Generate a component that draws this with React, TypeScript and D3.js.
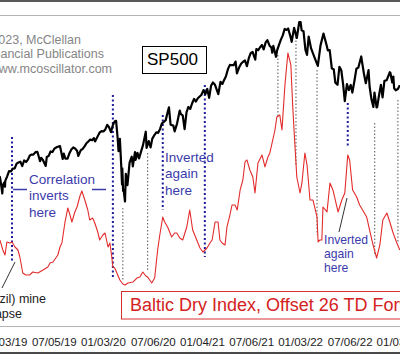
import React from 'react';
import * as d3 from 'd3';

const W = 400;
const H = 355;

// S&P 500 (approx closes)
const spDates = [
  "2018-12-14","2018-12-17","2018-12-20","2018-12-24","2018-12-26","2018-12-31","2019-01-03","2019-01-04",
  "2019-01-11","2019-01-18","2019-01-25","2019-02-01","2019-02-08","2019-02-15","2019-02-22","2019-03-01",
  "2019-03-08","2019-03-15","2019-03-22","2019-03-29","2019-04-05","2019-04-12","2019-04-18","2019-04-26",
  "2019-05-03","2019-05-13","2019-05-17","2019-05-24","2019-06-03","2019-06-07","2019-06-14","2019-06-21",
  "2019-06-28","2019-07-05","2019-07-15","2019-07-26","2019-08-05","2019-08-09","2019-08-15","2019-08-23",
  "2019-08-30","2019-09-06","2019-09-13","2019-09-20","2019-09-27","2019-10-02","2019-10-11","2019-10-18",
  "2019-10-25","2019-11-01","2019-11-08","2019-11-15","2019-11-22","2019-11-29","2019-12-03","2019-12-13",
  "2019-12-20","2019-12-27","2020-01-03","2020-01-10","2020-01-17","2020-01-24","2020-01-31","2020-02-07",
  "2020-02-14","2020-02-19","2020-02-25","2020-02-28","2020-03-04","2020-03-09","2020-03-12","2020-03-13",
  "2020-03-16","2020-03-18","2020-03-23","2020-03-26","2020-04-01","2020-04-09","2020-04-17","2020-04-21",
  "2020-04-29","2020-05-01","2020-05-08","2020-05-14","2020-05-22","2020-05-29","2020-06-08","2020-06-11",
  "2020-06-19","2020-06-26","2020-07-02","2020-07-10","2020-07-17","2020-07-24","2020-07-31","2020-08-07",
  "2020-08-14","2020-08-21","2020-08-28","2020-09-02","2020-09-08","2020-09-18","2020-09-23","2020-10-02",
  "2020-10-12","2020-10-16","2020-10-23","2020-10-30","2020-11-06","2020-11-13","2020-11-20","2020-11-27",
  "2020-12-04","2020-12-11","2020-12-18","2020-12-31","2021-01-08","2021-01-15","2021-01-22","2021-01-29",
  "2021-02-05","2021-02-12","2021-02-19","2021-03-04","2021-03-12","2021-03-19","2021-03-26","2021-04-01",
  "2021-04-09","2021-04-16","2021-04-23","2021-04-30","2021-05-07","2021-05-12","2021-05-21","2021-05-28",
  "2021-06-04","2021-06-11","2021-06-18","2021-06-25","2021-07-02","2021-07-09","2021-07-19","2021-07-23",
  "2021-07-30","2021-08-06","2021-08-13","2021-08-19","2021-08-27","2021-09-02","2021-09-10","2021-09-17",
  "2021-09-20","2021-09-24","2021-10-04","2021-10-08","2021-10-15","2021-10-22","2021-10-29","2021-11-05",
  "2021-11-12","2021-11-18","2021-11-26","2021-12-01","2021-12-10","2021-12-20","2021-12-29","2022-01-03",
  "2022-01-07","2022-01-14","2022-01-21","2022-01-27","2022-02-02","2022-02-11","2022-02-18","2022-02-24",
  "2022-03-08","2022-03-18","2022-03-29","2022-04-08","2022-04-14","2022-04-21","2022-04-29","2022-05-06",
  "2022-05-12","2022-05-20","2022-05-27","2022-06-03","2022-06-10","2022-06-16","2022-06-24","2022-07-01",
  "2022-07-08","2022-07-14","2022-07-22","2022-07-29","2022-08-05","2022-08-16","2022-08-19","2022-08-26",
  "2022-09-02","2022-09-12","2022-09-16","2022-09-23","2022-09-30","2022-10-04","2022-10-12","2022-10-14",
  "2022-10-21","2022-10-28","2022-11-03","2022-11-10","2022-11-18","2022-11-30","2022-12-02","2022-12-09",
  "2022-12-13","2022-12-16","2022-12-22","2022-12-30","2023-01-06"
];
const spValues = [
  2600,2546,2467,2351,2467,2507,2448,2532,
  2596,2671,2665,2707,2708,2776,2793,2804,
  2743,2822,2800,2834,2893,2907,2905,2940,
  2946,2812,2860,2826,2744,2873,2887,2950,
  2942,2990,3014,3026,2844,2919,2847,2847,
  2926,2979,3007,2992,2962,2887,2970,2986,
  3023,3067,3093,3120,3110,3141,3093,3169,
  3221,3240,3235,3265,3330,3295,3226,3328,
  3380,3386,3128,2954,3130,2747,2481,2711,
  2386,2398,2237,2630,2470,2790,2875,2737,
  2940,2830,2930,2852,2955,3044,3232,3002,
  3098,3009,3130,3185,3224,3216,3271,3351,
  3373,3397,3508,3580,3332,3319,3237,3348,
  3534,3483,3465,3270,3509,3585,3557,3638,
  3699,3663,3709,3756,3824,3768,3841,3714,
  3886,3934,3906,3768,3943,3913,3974,4019,
  4128,4185,4180,4181,4232,4063,4155,4204,
  4229,4247,4166,4280,4352,4369,4258,4411,
  4395,4436,4468,4405,4509,4537,4458,4432,
  4358,4455,4300,4391,4471,4545,4605,4697,
  4682,4704,4595,4513,4712,4568,4793,4796,
  4677,4663,4398,4326,4589,4419,4349,4288,
  4170,4463,4632,4488,4392,4394,4132,4123,
  3930,3901,4158,4108,3901,3667,3912,3825,
  3899,3790,3962,4130,4145,4305,4228,4058,
  3924,4110,3873,3693,3586,3791,3577,3583,
  3753,3901,3720,3956,3965,4080,4072,3934,
  4019,3852,3822,3840,3895
];

// Baltic Dry Index, plotted 26 trading days forward
const bdiDates = [
  "2018-12-15","2018-12-26","2019-01-03","2019-01-10","2019-01-21","2019-01-29","2019-02-09","2019-02-20",
  "2019-02-27","2019-03-10","2019-03-21","2019-04-05","2019-04-16","2019-05-05","2019-05-24","2019-06-11",
  "2019-06-19","2019-06-30","2019-07-18","2019-07-26","2019-08-02","2019-08-13","2019-08-24","2019-09-01",
  "2019-09-08","2019-09-19","2019-09-27","2019-10-08","2019-10-15","2019-10-26","2019-11-06","2019-11-13",
  "2019-11-24","2019-12-02","2019-12-13","2019-12-20","2020-01-01","2020-01-09","2020-01-20","2020-01-27",
  "2020-02-03","2020-02-07","2020-02-14","2020-02-25","2020-03-04","2020-03-15","2020-03-23","2020-04-03",
  "2020-04-21","2020-05-06","2020-05-17","2020-05-28","2020-06-08","2020-06-15","2020-06-30","2020-07-11",
  "2020-07-22","2020-07-30","2020-08-10","2020-08-17","2020-08-28","2020-09-12","2020-09-23","2020-10-01",
  "2020-10-12","2020-10-23","2020-11-07","2020-11-18","2020-11-29","2020-12-14","2020-12-26","2021-01-06",
  "2021-01-21","2021-02-01","2021-02-09","2021-02-20","2021-03-03","2021-03-10","2021-03-18","2021-03-29",
  "2021-04-05","2021-04-16","2021-04-24","2021-05-05","2021-05-13","2021-05-24","2021-06-03","2021-06-11",
  "2021-06-18","2021-06-29","2021-07-10","2021-07-18","2021-07-29","2021-08-13","2021-08-24","2021-09-04",
  "2021-09-11","2021-09-22","2021-09-30","2021-10-07","2021-10-18","2021-10-26","2021-11-06","2021-11-17",
  "2021-11-28","2021-12-05","2021-12-12","2021-12-20","2022-01-01","2022-01-08","2022-01-19","2022-01-27",
  "2022-02-07","2022-02-18","2022-03-05","2022-03-09","2022-03-16","2022-03-23","2022-03-27","2022-04-11",
  "2022-04-22","2022-05-03","2022-05-22","2022-06-05","2022-06-16","2022-06-27","2022-07-04","2022-07-15",
  "2022-07-30","2022-08-10","2022-08-21","2022-09-05","2022-09-16","2022-09-27","2022-10-12","2022-10-24",
  "2022-11-04","2022-11-19","2022-11-30","2022-12-11","2022-12-26","2023-01-06"
];
const bdiValues = [
  1400,1173,1059,1355,1332,1355,1241,1173,
  1014,650,605,605,673,650,718,786,
  877,900,1059,1241,1332,1787,2128,1968,
  1809,2037,2150,2400,2514,2309,2082,1855,
  1900,1787,1582,1400,1514,1559,1241,1332,
  1014,786,764,605,491,400,377,423,
  445,536,559,673,582,559,423,536,
  1173,1514,1923,1809,1696,1468,1559,1559,
  1446,1400,1696,2082,1627,1400,1218,1127,
  1218,1332,1400,1809,1809,1400,1332,1287,
  1696,1968,2196,2196,2082,2537,2764,3173,
  3219,2991,2832,2468,3150,3332,3060,3287,
  3378,3673,3900,4196,4241,3900,4923,5650,
  5378,4423,3673,2832,2468,2696,3378,3105,
  2309,2309,1923,1355,1400,1400,2150,2037,
  2696,2537,2037,2309,2468,3332,3219,2537,
  2378,2196,2082,1923,1627,1332,991,1287,
  1855,2014,1809,1582,1332,1173
];

const tickDates = ["2019-01-03","2019-07-05","2020-01-03","2020-07-06","2021-01-04","2021-07-06","2022-01-03","2022-07-06","2023-01-03"];
const tickLabels = ["01/03/19","07/05/19","01/03/20","07/06/20","01/04/21","07/06/21","01/03/22","07/06/22","01/03/23"];

const blueMarkerDates = ["2019-01-29","2020-02-07","2020-08-10","2021-01-13","2022-06-27"];
const greyMarkerDates = ["2020-03-15","2020-06-15","2021-10-11","2021-12-17","2022-03-05","2022-10-05","2022-12-30"];

const parse = d3.timeParse("%Y-%m-%d");

export default function App() {
  const x = d3.scaleTime()
    .domain([parse("2019-01-03")!, parse("2023-01-03")!])
    .range([5, 399]);
  const ySP = d3.scaleLinear().domain([2237, 4796]).range([201.5, 22]);
  const yBDI = d3.scaleLinear().domain([400, 5650]).range([284, 53]);

  const spData = spDates.map((d, i) => ({ date: parse(d)!, v: spValues[i] }));
  const bdiData = bdiDates.map((d, i) => ({ date: parse(d)!, v: bdiValues[i] }));

  const spLine = d3.line<{ date: Date; v: number }>().x(d => x(d.date)).y(d => ySP(d.v));
  const bdiLine = d3.line<{ date: Date; v: number }>().x(d => x(d.date)).y(d => yBDI(d.v));

  // annotation vertical spans (pixel extents)
  const blueSpans = [[137, 262], [95, 277], [115, 210], [85, 257], [103, 147]];
  const greySpans = [[208, 280], [153, 272], [55, 118], [37, 165], [70, 235], [123, 255], [100, 242]];

  const font = "'Liberation Sans', Arial, Helvetica, sans-serif";
  const blueText = "#3b3bab";

  return (
    <svg width={W} height={H} style={{ position: 'absolute', left: 0, top: 0, background: '#fff' }} fontFamily={font}>
      <rect x={0} y={0} width={W} height={H} fill="#fff" />
      {/* frame lines */}
      <line x1={0} x2={W} y1={1} y2={1} stroke="#5a5a5a" strokeWidth={2} />
      <line x1={0} x2={W} y1={15.5} y2={15.5} stroke="#b4b4b4" strokeWidth={1} />
      <line x1={0} x2={W} y1={326.5} y2={326.5} stroke="#b4b4b4" strokeWidth={1} />
      <line x1={0} x2={W} y1={353} y2={353} stroke="#4a4a4a" strokeWidth={2} />

      {/* copyright */}
      <g fill="#858585" fontSize={12.5} textAnchor="end">
        <text x={81} y={44}>©2023, McClellan</text>
        <text x={104} y={58}>Financial Publications</text>
        <text x={112} y={73}>www.mcoscillator.com</text>
      </g>

      {/* SP500 label */}
      <rect x={142.5} y={46.5} width={64} height={27} fill="#fff" stroke="#000" strokeWidth={1} />
      <text x={147} y={65} fontSize={17} fill="#000">SP500</text>

      {/* grey dotted markers */}
      {greyMarkerDates.map((d, i) => (
        <line key={'g' + i} x1={x(parse(d)!)} x2={x(parse(d)!)} y1={greySpans[i][0]} y2={greySpans[i][1]}
          stroke="#555" strokeWidth={1} strokeDasharray="1.5,2" />
      ))}
      {/* blue dotted markers */}
      {blueMarkerDates.map((d, i) => (
        <line key={'b' + i} x1={x(parse(d)!)} x2={x(parse(d)!)} y1={blueSpans[i][0]} y2={blueSpans[i][1]}
          stroke="#1c1c9c" strokeWidth={2} strokeDasharray="2,2.5" />
      ))}

      {/* Baltic Dry Index line */}
      <path d={bdiLine(bdiData) || ''} fill="none" stroke="#e32b2b" strokeWidth={1.1} strokeLinejoin="round" />
      {/* SP500 line */}
      <path d={spLine(spData) || ''} fill="none" stroke="#000" strokeWidth={2.2} strokeLinejoin="round" />

      {/* correlation annotation */}
      <line x1={13} x2={27} y1={189.5} y2={189.5} stroke={blueText} strokeWidth={1.5} />
      <line x1={92} x2={106} y1={189.5} y2={189.5} stroke={blueText} strokeWidth={1.5} />
      <g fill={blueText} fontSize={13.5}>
        <text x={29} y={183.5}>Correlation</text>
        <text x={29} y={200}>inverts</text>
        <text x={29} y={216.5}>here</text>
      </g>
      <g fill={blueText} fontSize={13.5}>
        <text x={165} y={161.5}>Inverted</text>
        <text x={165} y={178}>again</text>
        <text x={165} y={194.5}>here</text>
      </g>
      <line x1={339} y1={232} x2={347} y2={198} stroke="#333" strokeWidth={1} />
      <g fill={blueText} fontSize={12.2}>
        <text x={324} y={244}>Inverted</text>
        <text x={324} y={258}>again</text>
        <text x={324} y={272}>here</text>
      </g>

      {/* Vale annotation */}
      <line x1={2} y1={288} x2={15} y2={262} stroke="#333" strokeWidth={1} />
      <g fill="#222" fontSize={12.5} textAnchor="end">
        <text x={46} y={303}>Vale (Brazil) mine</text>
        <text x={22} y={318}>dam collapse</text>
      </g>

      {/* Baltic label */}
      <rect x={121.5} y={291.5} width={300} height={27.5} fill="#fff" stroke="#d63030" strokeWidth={1} />
      <text x={130} y={311} fontSize={18} fill="#d42222">Baltic Dry Index, Offset 26 TD Forward</text>

      {/* x axis labels */}
      <g fill="#222" fontSize={11.5} textAnchor="middle">
        {tickDates.map((d, i) => (
          <text key={d} x={x(parse(d)!)} y={346}>{tickLabels[i]}</text>
        ))}
      </g>
    </svg>
  );
}
